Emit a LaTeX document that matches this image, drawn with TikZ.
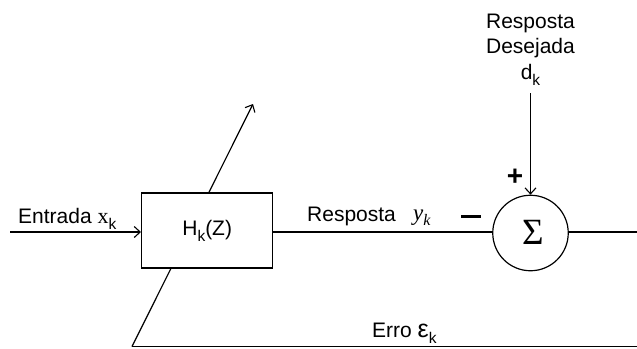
\documentclass[tikz,border=0pt]{standalone}
\usepackage{fontspec}
\setmainfont{Liberation Sans}
\newfontfamily\serifface{Liberation Serif}
\usetikzlibrary{arrows.meta}
\tikzset{
  line/.style={line width=1.2pt},
  arr/.style={line width=1.2pt,-{Straight Barb[length=6pt,width=11pt,line width=1.1pt]}},
  lbl/.style={inner sep=0pt,anchor=base west,font=\fontsize{21}{24}\selectfont},
  block/.style={draw,fill=white,line width=1.4pt,minimum width=131pt,minimum height=75pt,inner sep=0pt,font=\fontsize{21}{24}\selectfont},
  sumnode/.style={draw,circle,fill=white,line width=1.2pt,minimum size=75.5pt,inner sep=0pt}
}
\newcommand{\subk}{\raisebox{-6pt}{\fontsize{15.5}{15.5}\selectfont k}}
\begin{document}
\begin{tikzpicture}[x=1pt,y=-1pt]
  \useasboundingbox (0,0) rectangle (637,348);
  % free ends
  \coordinate (in) at (10,232);
  \coordinate (out) at (637,232);
  \coordinate (dtop) at (530.5,93);
  \coordinate (adlo) at (132,346.5);
  \coordinate (adhi) at (253,104);
  \coordinate (errend) at (637,346.5);
  % error feedback and adaptation arrow (passes behind the filter block)
  \draw[line] (errend) -- (adlo);
  \draw[arr] (adlo) -- (adhi);
  % blocks
  \node[block] (H) at (207.2,230.5) {H\subk(Z)};
  \node[sumnode] (S) at (530.5,233) {};
  \node[inner sep=0pt,anchor=base,font=\serifface\fontsize{37}{37}\selectfont] (sigma) at (533,244.3) {Σ};
  % signal path
  \draw[arr] (in) -- (H.west |- in);
  \draw[line] (H.east |- in) -- (S.west |- in);
  \draw[line] (S.east |- out) -- (out);
  \draw[arr] (dtop) -- (S.north);
  % labels
  \node[lbl] (lin) at (18,223) {Entrada {\serifface\fontsize{22}{24}\selectfont x}\subk};
  \node[lbl] (lresp) at (307,221.5) {Resposta};
  \node[lbl] (lyk) at (413,220) {\serifface\fontsize{23}{24}\selectfont\itshape y\raisebox{-5pt}{\fontsize{16}{16}\selectfont k}};
  \node[lbl,anchor=base] (ld1) at (530.5,28) {Resposta};
  \node[lbl,anchor=base] (ld2) at (530.5,53.3) {Desejada};
  \node[lbl,anchor=base] (ld3) at (530.5,79) {d\subk};
  \node[lbl] (lerr) at (372,337) {Erro {\fontsize{25}{25}\selectfont ε}\subk};
  % signs
  \node[inner sep=0pt,font=\fontsize{28}{28}\selectfont\bfseries] (plus) at (515,177) {+};
  \node[inner sep=0pt,minimum width=20pt,minimum height=3.5pt,fill=black] (minus) at (470.5,216.5) {};
\end{tikzpicture}
\end{document}
